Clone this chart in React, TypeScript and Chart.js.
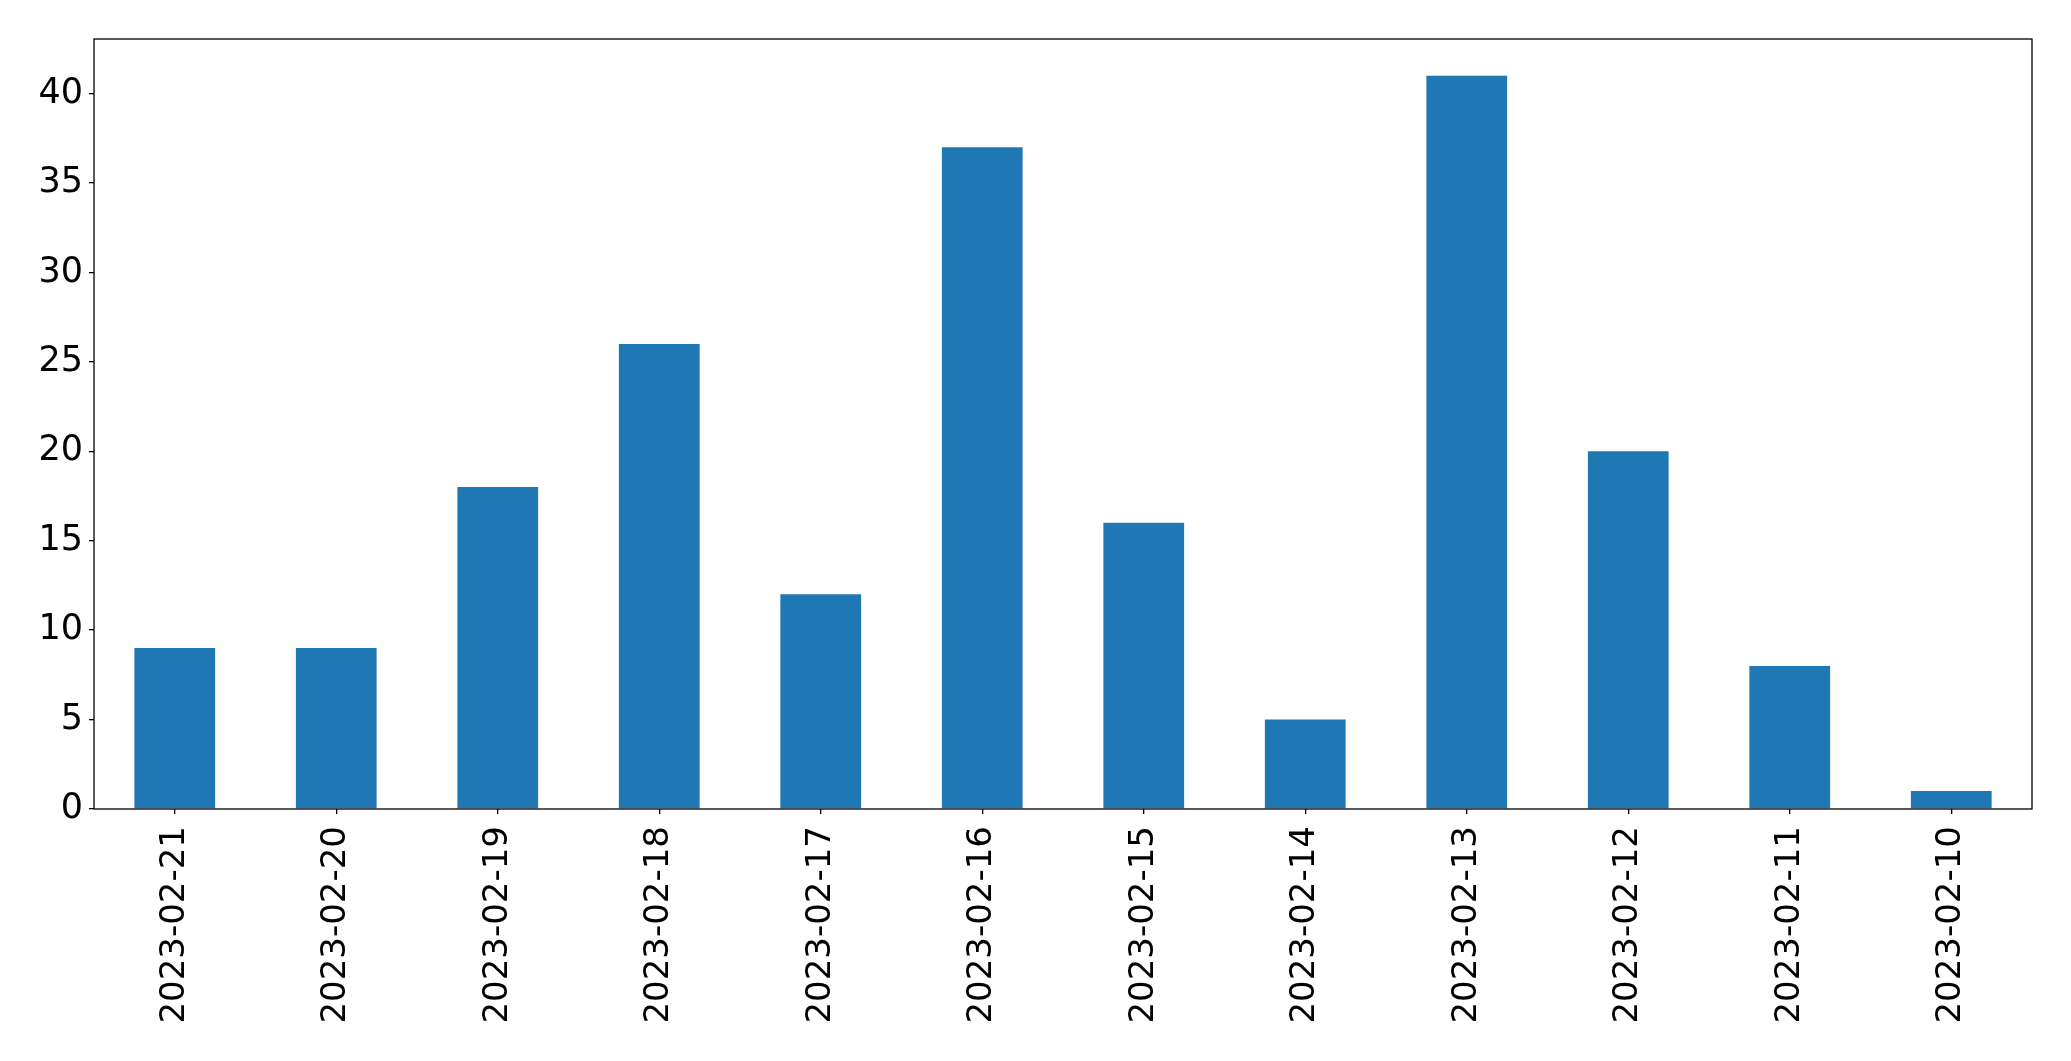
import React, { useEffect, useRef } from "react";
import { Chart, registerables } from "chart.js";

Chart.register(...registerables);

const categories = [
  "2023-02-21",
  "2023-02-20",
  "2023-02-19",
  "2023-02-18",
  "2023-02-17",
  "2023-02-16",
  "2023-02-15",
  "2023-02-14",
  "2023-02-13",
  "2023-02-12",
  "2023-02-11",
  "2023-02-10",
];
const counts = [9, 9, 18, 26, 12, 37, 16, 5, 41, 20, 8, 1];
const yTicks = [0, 5, 10, 15, 20, 25, 30, 35, 40];

const W = 2071;
const H = 1061;
const LEFT = 94;
const TOP = 39;
const RIGHT = 2032;
const BOTTOM = 809;
const FONT = "'DejaVu Sans', sans-serif";

const frame = {
  id: "frame",
  afterDraw(chart: any) {
    const { ctx, chartArea } = chart;
    ctx.save();
    ctx.strokeStyle = "#000";
    ctx.lineWidth = 1.3;
    ctx.strokeRect(chartArea.left, chartArea.top, chartArea.right - chartArea.left, chartArea.bottom - chartArea.top);
    ctx.restore();
  },
};

export default function App() {
  const ref = useRef<HTMLCanvasElement>(null);
  useEffect(() => {
    if (!ref.current) return;
    const chart = new Chart(ref.current, {
      type: "bar",
      data: {
        labels: categories,
        datasets: [
          {
            data: counts,
            backgroundColor: "#1f77b4",
            borderWidth: 0,
            categoryPercentage: 0.5,
            barPercentage: 1,
          },
        ],
      },
      options: {
        animation: false,
        responsive: false,
        maintainAspectRatio: false,
        layout: { padding: { left: 0, top: TOP, right: W - RIGHT, bottom: 0 } },
        plugins: { legend: { display: false }, tooltip: { enabled: false } },
        scales: {
          x: {
            offset: true,
            grid: {
              display: true,
              offset: false,
              drawOnChartArea: false,
              drawTicks: true,
              tickLength: 5,
              color: "#000",
              lineWidth: 1.3,
            },
            border: { display: false },
            ticks: {
              color: "#000",
              font: { family: FONT, size: 34 },
              minRotation: 90,
              maxRotation: 90,
              padding: 12,
              autoSkip: false,
            },
            afterFit(scale: any) {
              scale.height = H - BOTTOM;
            },
          },
          y: {
            min: 0,
            max: 43.05,
            afterBuildTicks(scale: any) {
              scale.ticks = yTicks.map((v) => ({ value: v }));
            },
            grid: { display: true, drawOnChartArea: false, drawTicks: true, tickLength: 5, color: "#000", lineWidth: 1.3 },
            border: { display: false },
            ticks: {
              color: "#000",
              font: { family: FONT, size: 35 },
              padding: 6,
            },
            afterFit(scale: any) {
              scale.width = LEFT;
            },
          },
        },
      },
      plugins: [frame],
    });
    return () => chart.destroy();
  }, []);
  return (
    <div style={{ position: "fixed", left: 0, top: 0, width: W, height: H, background: "#fff" }}>
      <canvas ref={ref} width={W} height={H} style={{ width: W, height: H, display: "block" }} />
    </div>
  );
}
